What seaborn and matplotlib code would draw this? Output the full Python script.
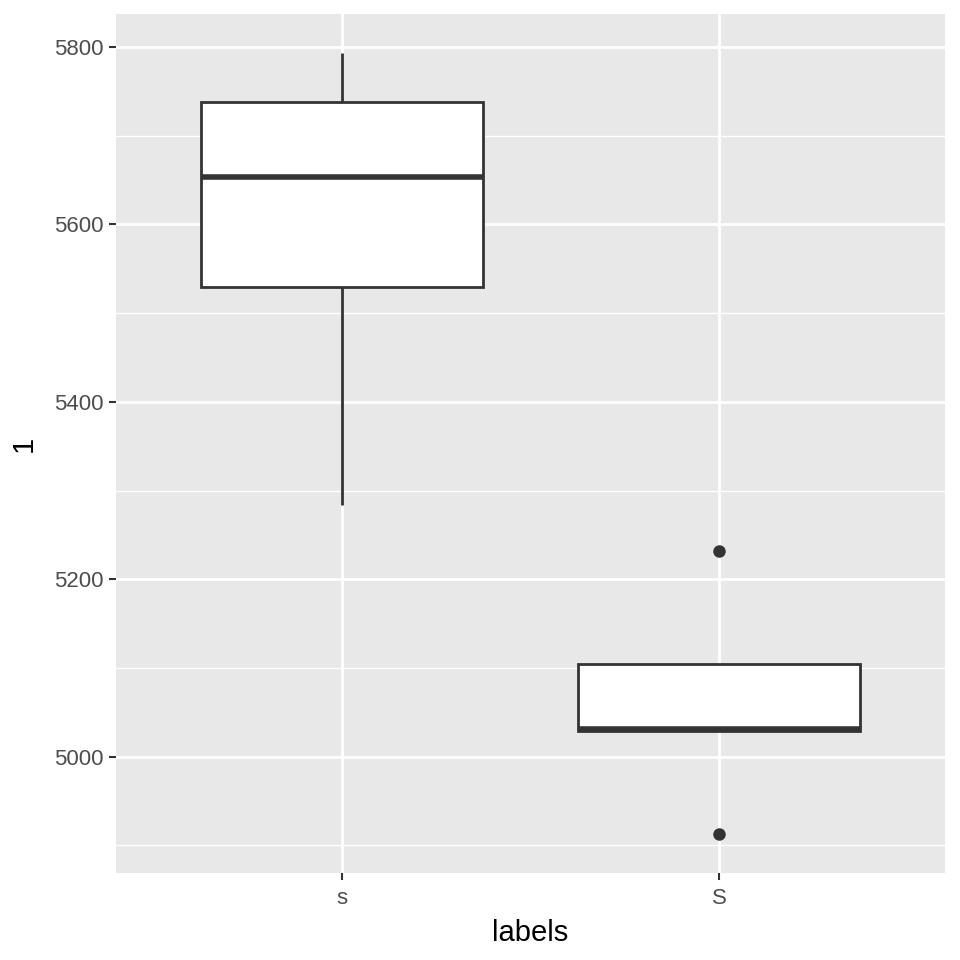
import pandas as pd
import seaborn as sns
import matplotlib.pyplot as plt
from matplotlib.ticker import MultipleLocator

# valores (5 observacoes por grupo)
labels = ["s", "S"]
values_s = [5284, 5529, 5653, 5738, 5793]
values_S = [4913, 5029, 5031, 5104, 5232]

df = pd.DataFrame({
    "labels": [labels[0]] * len(values_s) + [labels[1]] * len(values_S),
    "1": values_s + values_S,
})

sns.set_style("darkgrid", {"axes.facecolor": "#E8E8E8", "grid.color": "white"})
plt.rcParams["font.family"] = ["Liberation Sans", "DejaVu Sans"]

fig = plt.figure(figsize=(9.6, 9.6), dpi=100)
ax = fig.add_axes([116 / 960, 87 / 960, 829 / 960, 859 / 960])

line_col = "#333333"
sns.boxplot(
    data=df, x="labels", y="1", order=labels,
    color="white", width=0.75, linecolor=line_col, linewidth=2,
    showcaps=False, whis=1.5, fill=True, ax=ax,
    medianprops={"linewidth": 4, "color": line_col},
    flierprops={"marker": "o", "markerfacecolor": line_col,
                "markeredgecolor": line_col, "markersize": 8},
)

# grade estilo ggplot (linhas maiores e menores)
ax.set_xlim(-0.6, 1.6)
ax.set_ylim(4869, 5837)
ax.yaxis.set_major_locator(MultipleLocator(200))
ax.yaxis.set_minor_locator(MultipleLocator(100))
ax.grid(which="major", color="white", linewidth=2)
ax.grid(which="minor", axis="y", color="white", linewidth=1)
ax.set_axisbelow(True)
for sp in ax.spines.values():
    sp.set_visible(False)

ax.tick_params(axis="both", which="major", length=5, width=1.5, color=line_col,
               labelsize=16, labelcolor="#4D4D4D", pad=4, left=True, bottom=True)
ax.tick_params(axis="x", which="major", pad=6)
ax.tick_params(axis="y", which="minor", length=0)

ax.set_xlabel("labels", fontsize=21, color="black", labelpad=7)
ax.set_ylabel("1", fontsize=21, color="black", labelpad=12)

fig.savefig("out.png", dpi=100, facecolor="white")
